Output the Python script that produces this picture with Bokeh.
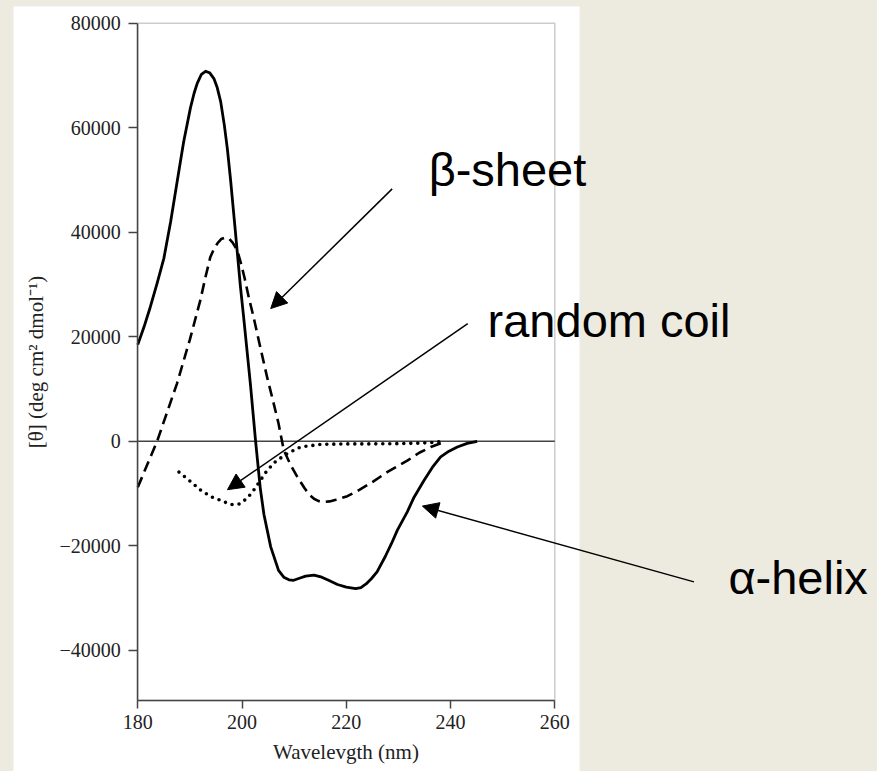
from bokeh.plotting import figure
from bokeh.models import (Range1d, FixedTicker, LinearAxis, Arrow, NormalHead, Label,
                          BoxAnnotation, GlobalInlineStyleSheet)
from bokeh.embed import file_html
from bokeh.resources import INLINE

# ---- data ----
helix_nm = [180, 181.2, 182.4, 183.7, 185, 186.3, 187.6, 188.8, 190.1, 190.8, 191.4, 192.2, 193,
            193.8, 194.6, 195.2, 195.9, 196.6, 197.2, 197.8, 198.5, 199.1, 199.7, 200.3, 201.6,
            202.6, 203.5, 204.2, 205.5, 207, 208, 209, 209.9, 211, 212.2, 213.8, 215.3, 216.8,
            218.3, 220, 221.8, 222.8, 223.8, 224.8, 225.9, 227.5, 228.7, 229.8, 231.7, 233,
            234.9, 236.5, 238.1, 239.7, 241.3, 243.2, 245.1]
helix_val = [18500, 21900, 25700, 30200, 35000, 42000, 50000, 57300, 63800, 66600, 68500, 70200, 70800,
             70500, 69400, 67800, 65000, 60500, 55800, 50000, 42500, 36000, 29500, 23800, 11000,
             0, -9000, -14000, -20200, -24700, -26000, -26500, -26600, -26200, -25800, -25600, -26000, -26700,
             -27400, -27900, -28200, -28000, -27300, -26300, -25000, -22000, -19500, -17000, -13500, -10700,
             -7500, -5000, -3000, -1900, -1100, -400, 0]

sheet_nm = [180, 181.8, 183.7, 185.6, 187.5, 190, 192, 193, 193.9, 194.6, 195.3, 196, 196.8, 197.5,
            198.2, 199.1, 199.8, 200.5, 201.3, 202.2, 203.5, 204.8, 206, 207, 208, 209.3, 210.6, 212,
            213, 213.8, 214.7, 215.7, 216.8, 218, 220.2, 222.5, 225, 228, 231.7, 234, 236.2, 239.1]
sheet_val = [-8800, -4500, 0, 5500, 11000, 19500, 27000, 31500, 35200, 36800, 37900, 38700, 39000, 38800,
             38000, 36500, 34000, 31200, 27500, 23800, 18000, 12300, 7500, 3400, -1700, -4500, -6800, -9000,
             -10300, -11000, -11450, -11600, -11500, -11200, -10500, -9300, -7800, -5800, -3700, -2200, -1100, 0]

coil_nm = [187.9, 190, 192, 194, 195.9, 197.8, 199.5, 201, 202.2, 203.5, 204.8, 206.5, 208.6,
           211.2, 215, 220, 225, 230.4, 234, 236.2, 238.7]
coil_val = [-5900, -7600, -9300, -10600, -11300, -12100, -12000, -10900, -9400, -7500, -5600, -3800, -2400,
            -1100, -600, -500, -500, -450, -350, -250, 0]

x_ticks = [180, 200, 220, 240, 260]
y_ticks = [-40000, -20000, 0, 20000, 40000, 60000, 80000]

labels = ["β-sheet", "random coil", "α-helix"]
label_x = [235.8, 247.1, 293.3]
label_y = [52000, 23100, -26000]
arrow_start_x = [228.8, 243.3, 286.7]
arrow_start_y = [48300, 22500, -26900]
arrow_end_x = [205.5, 197.2, 234.6]
arrow_end_y = [25400, -9260, -12400]

BEIGE = "#EDEAE0"
SERIF = "Liberation Serif"

# ---- layout geometry (pixels on the page) ----
W, H = 877, 771
BOX_L, BOX_R, BOX_T, BOX_B = 137.3, 554.3, 22.7, 700.0     # chart box
PANEL_L, PANEL_R, PANEL_T = 13, 579, 6                      # white panel
X0, X1 = 180, 260
Y0, Y1 = -49600, 80000
xs_per_px = (X1 - X0) / (BOX_R - BOX_L)
ys_per_px = (Y1 - Y0) / (BOX_B - BOX_T)
x_lo = X0 - BOX_L * xs_per_px
x_hi = X1 + (W - BOX_R) * xs_per_px
y_hi = Y1 + BOX_T * ys_per_px
y_lo = Y0 - (H - BOX_B) * ys_per_px

p = figure(width=W, height=H,
           x_range=Range1d(x_lo, x_hi), y_range=Range1d(y_lo, y_hi),
           x_axis_location=None, y_axis_location=None,
           output_backend="svg", toolbar_location=None,
           min_border=0, min_border_left=0, min_border_right=0,
           min_border_top=0, min_border_bottom=0,
           background_fill_color=BEIGE, border_fill_color=BEIGE)
p.stylesheets = [GlobalInlineStyleSheet(css="html, body { background-color: %s; }" % BEIGE)]
p.grid.visible = False
p.outline_line_color = None

# white panel behind the chart
p.add_layout(BoxAnnotation(left=X0 - (BOX_L - PANEL_L) * xs_per_px,
                           right=X0 + (PANEL_R - BOX_L) * xs_per_px,
                           top=Y1 + (BOX_T - PANEL_T) * ys_per_px,
                           bottom=y_lo - 10000,
                           fill_color="white", fill_alpha=1.0, line_alpha=0, level="underlay"))
# chart box outline
p.add_layout(BoxAnnotation(left=X0, right=X1, top=Y1, bottom=Y0,
                           fill_alpha=0, line_color="#555555", line_width=1.5, level="underlay"))

yaxis = LinearAxis(fixed_location=X0, bounds=(Y0, Y1), ticker=FixedTicker(ticks=y_ticks))
xaxis = LinearAxis(fixed_location=Y0, bounds=(X0, X1), ticker=FixedTicker(ticks=x_ticks))
p.add_layout(yaxis, "left")
p.add_layout(xaxis, "below")

for ax in (xaxis, yaxis):
    ax.axis_line_color = "#444444"
    ax.axis_line_width = 1.5
    ax.major_tick_line_color = "#444444"
    ax.major_tick_line_width = 1.5
    ax.minor_tick_line_color = None
    ax.major_tick_in = 0
    ax.major_label_text_font = SERIF
    ax.major_label_text_font_size = "20px"
    ax.major_label_text_color = "#222222"
    ax.axis_label_text_font = SERIF
    ax.axis_label_text_font_style = "normal"
    ax.axis_label_text_color = "#222222"

yaxis.major_label_overrides = {v: str(v).replace("-", "\u2212") for v in y_ticks}
xaxis.major_tick_out = 8
yaxis.major_tick_out = 9
xaxis.major_label_standoff = 6
yaxis.major_label_standoff = 8
xaxis.axis_label = "Wavelevgth (nm)"
xaxis.axis_label_text_font_size = "21px"
xaxis.axis_label_standoff = 8
yaxis.axis_label = "[θ] (deg cm² dmol⁻¹)"
yaxis.axis_label_text_font_size = "21px"
yaxis.axis_label_standoff = 8

# zero line across the chart box
p.segment(x0=X0, y0=0, x1=X1, y1=0, line_color="#444444", line_width=1.5)

p.line(helix_nm, helix_val, line_color="black", line_width=2.8, line_join="round")
p.line(sheet_nm, sheet_val, line_color="black", line_width=2.6, line_dash="11 6", line_join="round")
p.line(coil_nm, coil_val, line_color="black", line_width=3.6, line_dash="0 7", line_cap="round")

for t, lx, ly, xs, ys, xe, ye in zip(labels, label_x, label_y, arrow_start_x, arrow_start_y,
                                     arrow_end_x, arrow_end_y):
    p.add_layout(Arrow(x_start=xs, y_start=ys, x_end=xe, y_end=ye, level="overlay",
                       line_color="black", line_width=1.5,
                       end=NormalHead(size=16, fill_color="black", line_color="black")))
    p.add_layout(Label(x=lx, y=ly, level="overlay",
                       text=t, text_font="Liberation Sans", text_font_size="47px",
                       text_baseline="alphabetic", text_color="black"))

open("out.html", "w").write(file_html(p, INLINE))
